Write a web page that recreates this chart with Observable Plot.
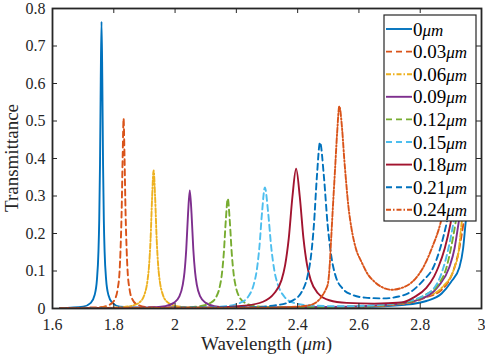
<!DOCTYPE html>
<html>
<head>
<meta charset="utf-8">
<script src="https://cdn.jsdelivr.net/npm/d3@7"></script>
<script src="https://cdn.jsdelivr.net/npm/@observablehq/plot@0.6"></script>
<style>
  html, body { margin: 0; padding: 0; background: #fff; }
  #chart { position: relative; width: 485px; height: 357px; }
</style>
</head>
<body>
<div id="chart"></div>
<script>
// ---- tick labels ----
const xTicks = [1.6, 1.8, 2.0, 2.2, 2.4, 2.6, 2.8, 3.0];
const xTickLabels = ["1.6", "1.8", "2", "2.2", "2.4", "2.6", "2.8", "3"];
const yTicks = [0, 0.1, 0.2, 0.3, 0.4, 0.5, 0.6, 0.7, 0.8];
const yTickLabels = ["0", "0.1", "0.2", "0.3", "0.4", "0.5", "0.6", "0.7", "0.8"];

// ---- series names ----
const seriesNames = ["0", "0.03", "0.06", "0.09", "0.12", "0.15", "0.18", "0.21", "0.24"];

// ---- series values: [wavelength (um), transmittance] ----
const t000 = [[1.625,0.001],[1.700,0.005],[1.725,0.015],[1.7375,0.036],[1.745,0.077],[1.750,0.153],[1.7525,0.236],[1.755,0.383],[1.7575,0.612],[1.760,0.765],[1.7625,0.612],[1.765,0.383],[1.7675,0.236],[1.770,0.153],[1.775,0.077],[1.7825,0.036],[1.795,0.015],[1.820,0.005],[1.900,0.002],[2.300,0.002],[2.600,0.004],[2.750,0.010],[2.820,0.020],[2.870,0.040],[2.900,0.070],[2.928,0.110],[2.940,0.160],[2.948,0.227],[2.960,0.310],[2.975,0.420]];
const t003 = [[1.625,0.001],[1.754,0.0035],[1.7865,0.010],[1.803,0.024],[1.8125,0.051],[1.819,0.101],[1.822,0.156],[1.8255,0.254],[1.829,0.406],[1.832,0.507],[1.835,0.406],[1.8385,0.254],[1.842,0.156],[1.845,0.101],[1.8515,0.051],[1.861,0.024],[1.8775,0.010],[1.910,0.0035],[2.200,0.002],[2.600,0.005],[2.750,0.013],[2.820,0.030],[2.870,0.050],[2.912,0.110],[2.925,0.150],[2.941,0.227],[2.955,0.310],[2.975,0.450]];
const t006 = [[1.625,0.001],[1.810,0.0026],[1.860,0.0074],[1.885,0.017],[1.900,0.037],[1.910,0.074],[1.915,0.113],[1.920,0.184],[1.925,0.294],[1.930,0.368],[1.935,0.294],[1.940,0.184],[1.945,0.113],[1.950,0.074],[1.960,0.037],[1.975,0.017],[2.000,0.0074],[2.050,0.0026],[2.300,0.002],[2.600,0.005],[2.750,0.014],[2.820,0.032],[2.870,0.055],[2.912,0.110],[2.925,0.150],[2.935,0.227],[2.950,0.310],[2.975,0.470]];
const t009 = [[1.625,0.001],[1.910,0.0022],[1.968,0.0063],[1.996,0.015],[2.0135,0.0315],[2.025,0.063],[2.0308,0.097],[2.0365,0.158],[2.0423,0.252],[2.048,0.315],[2.0538,0.252],[2.0595,0.158],[2.0653,0.097],[2.071,0.063],[2.0825,0.0315],[2.100,0.015],[2.128,0.0063],[2.186,0.0022],[2.500,0.004],[2.700,0.010],[2.800,0.025],[2.860,0.060],[2.895,0.110],[2.912,0.160],[2.925,0.227],[2.940,0.310],[2.975,0.530]];
const t012 = [[1.625,0.001],[2.016,0.002],[2.081,0.006],[2.1135,0.014],[2.133,0.029],[2.146,0.059],[2.1525,0.090],[2.159,0.147],[2.1655,0.234],[2.172,0.293],[2.1785,0.234],[2.185,0.147],[2.1915,0.090],[2.198,0.059],[2.211,0.029],[2.2305,0.014],[2.263,0.006],[2.328,0.003],[2.600,0.006],[2.750,0.016],[2.820,0.038],[2.860,0.065],[2.886,0.110],[2.900,0.160],[2.915,0.227],[2.930,0.310],[2.960,0.480],[2.975,0.560]];
const t015 = [[1.625,0.001],[2.077,0.0022],[2.167,0.0065],[2.212,0.015],[2.239,0.032],[2.257,0.065],[2.266,0.099],[2.275,0.162],[2.284,0.258],[2.293,0.323],[2.3035,0.258],[2.314,0.162],[2.3245,0.099],[2.335,0.065],[2.356,0.032],[2.3875,0.015],[2.440,0.008],[2.550,0.006],[2.700,0.012],[2.800,0.030],[2.850,0.060],[2.876,0.110],[2.892,0.160],[2.908,0.227],[2.925,0.320],[2.955,0.500],[2.975,0.600]];
const t018 = [[1.625,0.001],[2.100,0.002],[2.227,0.0075],[2.287,0.018],[2.323,0.040],[2.347,0.075],[2.359,0.115],[2.371,0.187],[2.383,0.298],[2.395,0.373],[2.407,0.298],[2.419,0.187],[2.431,0.115],[2.443,0.075],[2.467,0.040],[2.503,0.022],[2.560,0.015],[2.650,0.013],[2.740,0.016],[2.780,0.030],[2.820,0.055],[2.845,0.085],[2.859,0.110],[2.880,0.160],[2.899,0.227],[2.920,0.330],[2.950,0.500],[2.975,0.620]];
const t021 = [[1.625,0.001],[2.233,0.003],[2.333,0.009],[2.383,0.021],[2.413,0.044],[2.433,0.089],[2.443,0.136],[2.453,0.222],[2.463,0.354],[2.473,0.443],[2.4855,0.354],[2.498,0.222],[2.5105,0.136],[2.523,0.089],[2.548,0.052],[2.580,0.036],[2.620,0.029],[2.680,0.027],[2.730,0.032],[2.770,0.045],[2.810,0.075],[2.843,0.110],[2.865,0.160],[2.886,0.227],[2.910,0.330],[2.945,0.510],[2.975,0.640]];
const t024 = [[1.625,0.001],[2.300,0.002],[2.400,0.005],[2.434,0.008],[2.460,0.016],[2.477,0.030],[2.490,0.048],[2.499,0.067],[2.505,0.120],[2.509,0.180],[2.515,0.270],[2.522,0.370],[2.529,0.470],[2.536,0.539],[2.545,0.480],[2.552,0.400],[2.558,0.340],[2.566,0.270],[2.575,0.217],[2.590,0.160],[2.608,0.125],[2.630,0.090],[2.650,0.072],[2.680,0.055],[2.706,0.050],[2.740,0.055],[2.771,0.069],[2.790,0.085],[2.810,0.110],[2.840,0.165],[2.866,0.227],[2.890,0.320],[2.930,0.500],[2.975,0.680]];

const seriesValues = [t000, t003, t006, t009, t012, t015, t018, t021, t024];

// ---- styles ----
const colors = ["#0072BD", "#D95319", "#EDB120", "#7E2F8E", "#77AC30", "#4DBEEE", "#A2142F", "#0072BD", "#D95319"];
const dashes = [null, "6,4", "5,2,1.5,2", null, "6,4", "6,4", null, "6,4", "5,2,1.5,2"];

const W = 485, H = 357;
const mL = 52, mR = 4, mT = 8, mB = 49;
const font = "'Liberation Serif'";
const ink = "#262626";

const table = seriesValues.map((arr, i) => arr.map(([w, t]) => ({w, t, s: seriesNames[i]})));

const lineMarks = table.map((rows, i) => Plot.line(rows, {
  x: "w", y: "t",
  stroke: colors[i],
  strokeWidth: 1.9,
  strokeDasharray: dashes[i],
  curve: "monotone-x",
  clip: true
}));

const plotH = H - mT - mB;
const plotW = W - mL - mR;
const tickLen = 5;

const chart = Plot.plot({
  width: W, height: H,
  marginLeft: mL, marginRight: mR, marginTop: mT, marginBottom: mB,
  x: {domain: [1.6, 3]},
  y: {domain: [0, 0.8]},
  style: {fontSize: "16px", background: "#fff", color: ink},
  marks: [
    ...lineMarks,
    Plot.tickX(xTicks, {x: d => d, stroke: ink, insetTop: plotH - tickLen}),
    Plot.tickX(xTicks, {x: d => d, stroke: ink, insetBottom: plotH - tickLen}),
    Plot.tickY(yTicks, {y: d => d, stroke: ink, insetRight: plotW - tickLen}),
    Plot.tickY(yTicks, {y: d => d, stroke: ink, insetLeft: plotW - tickLen}),
    Plot.frame({stroke: ink, strokeWidth: 1.8}),
    Plot.axisX({ticks: xTicks, tickFormat: d => xTickLabels[xTicks.indexOf(d)], tickSize: 0, tickPadding: 10, label: null, fontSize: 16}),
    Plot.axisY({ticks: yTicks, tickFormat: d => yTickLabels[yTicks.indexOf(d)], tickSize: 0, tickPadding: 7, label: null, fontSize: 16})
  ]
});

document.getElementById("chart").appendChild(chart);

// ---- axis labels and legend ----
const svg = d3.select(chart);

const xl = svg.append("text")
  .attr("x", mL + plotW / 2).attr("y", 350)
  .attr("text-anchor", "middle")
  .style("font-size", "19px").attr("fill", ink);
xl.append("tspan").text("Wavelength (");
xl.append("tspan").style("font-style", "italic").text("μm");
xl.append("tspan").text(")");

svg.append("text")
  .attr("transform", `translate(18,${mT + plotH / 2}) rotate(-90)`)
  .attr("text-anchor", "middle")
  .style("font-size", "19px").attr("fill", ink)
  .text("Transmittance");

const lgX = 384, lgY = 15, lgW = 92, lgH = 206;
const lg = svg.append("g");
lg.append("rect")
  .attr("x", lgX).attr("y", lgY).attr("width", lgW).attr("height", lgH)
  .attr("fill", "#fff").attr("stroke", ink).attr("stroke-width", 1.2);
const rowH = 22.6;
seriesNames.forEach((name, i) => {
  const cy = lgY + 14 + i * rowH;
  lg.append("line")
    .attr("x1", lgX + 2).attr("x2", lgX + 28)
    .attr("y1", cy).attr("y2", cy)
    .attr("stroke", colors[i]).attr("stroke-width", 1.9)
    .attr("stroke-dasharray", dashes[i]);
  const t = lg.append("text")
    .attr("x", lgX + 29).attr("y", cy).attr("dy", "0.35em")
    .attr("text-anchor", "start")
    .style("font-size", "19px").attr("fill", "#000");
  t.append("tspan").text(name);
  t.append("tspan").style("font-style", "italic").style("font-size", "17px").text("μm");
});

// force the serif face on every text element
svg.selectAll("text").style("font-family", font).attr("font-family", "Liberation Serif");
svg.style("font-family", font);
</script>
</body>
</html>
